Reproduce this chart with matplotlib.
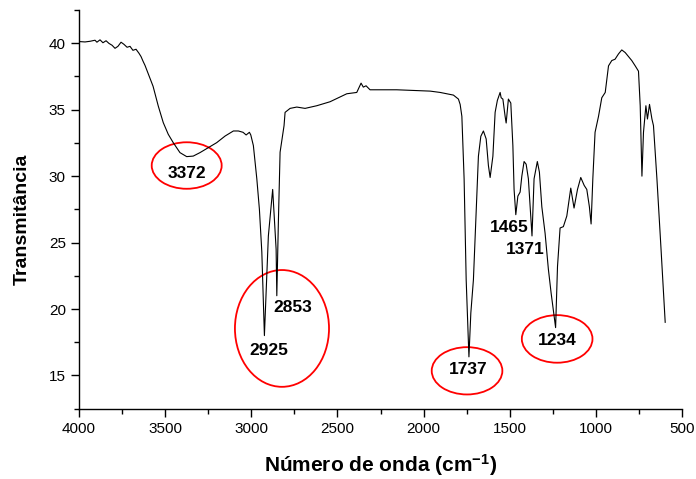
import numpy as np
import matplotlib
matplotlib.use("Agg")
import matplotlib.pyplot as plt
from matplotlib.patches import Ellipse

plt.rcParams['font.family'] = ['Liberation Sans', 'DejaVu Sans']
plt.rcParams['mathtext.fontset'] = 'custom'
plt.rcParams['mathtext.rm'] = 'Liberation Sans'
plt.rcParams['mathtext.bf'] = 'Liberation Sans:bold'
plt.rcParams['mathtext.default'] = 'bf'

# espectro FTIR (número de onda, transmitância)
wavenumber = [4000, 3965, 3936, 3907, 3896, 3878, 3861, 3843, 3826, 3808,
              3791, 3774, 3756, 3739, 3721, 3704, 3687, 3669, 3652, 3640,
              3628, 3617, 3570, 3540, 3511, 3482, 3453, 3414, 3375, 3337,
              3298, 3249, 3201, 3152, 3104, 3075, 3048, 3030, 3011, 3003,
              2988, 2968, 2953, 2939, 2924, 2901, 2876, 2856, 2852, 2843,
              2833, 2810, 2804, 2775, 2736, 2688, 2620, 2543, 2446, 2388,
              2363, 2350, 2334, 2311, 2156, 1962, 1904, 1866, 1827, 1807,
              1798, 1788, 1778, 1765, 1753, 1737, 1726, 1711, 1695, 1682,
              1668, 1653, 1637, 1624, 1614, 1598, 1585, 1572, 1556, 1550,
              1540, 1527, 1521, 1508, 1494, 1482, 1475, 1465, 1453, 1440,
              1430, 1417, 1405, 1392, 1382, 1371, 1359, 1340, 1328, 1314,
              1295, 1276, 1260, 1234, 1223, 1208, 1189, 1169, 1146, 1127,
              1107, 1088, 1068, 1053, 1038, 1028, 1018, 1005, 985, 966,
              946, 927, 908, 889, 869, 850, 830, 811, 792, 772,
              753, 743, 733, 724, 710, 701, 689, 675, 666, 646,
              623, 598]
transmittance = [40.13, 40.10, 40.15, 40.23, 40.08, 40.26, 40.04, 40.19, 39.99, 39.85,
                 39.62, 39.77, 40.08, 39.92, 39.70, 39.77, 39.47, 39.55, 39.25, 39.00,
                 38.64, 38.34, 36.76, 35.28, 34.03, 33.15, 32.52, 31.77, 31.47, 31.51,
                 31.77, 32.15, 32.52, 33.02, 33.40, 33.40, 33.30, 33.10, 33.30, 33.10,
                 32.30, 29.80, 27.50, 24.30, 18.00, 25.50, 29.00, 24.50, 21.00, 26.50,
                 31.80, 33.80, 34.80, 35.10, 35.20, 35.10, 35.30, 35.60, 36.20, 36.30,
                 37.00, 36.70, 36.80, 36.50, 36.50, 36.40, 36.30, 36.20, 36.10, 35.90,
                 35.80, 35.40, 34.50, 29.80, 22.20, 16.40, 19.70, 22.20, 27.30, 31.50,
                 33.00, 33.40, 32.80, 30.80, 29.90, 31.50, 34.80, 35.70, 36.30, 35.90,
                 35.80, 34.50, 34.00, 35.80, 35.50, 32.30, 29.00, 27.10, 28.50, 28.80,
                 30.00, 31.10, 30.90, 29.80, 27.70, 25.50, 29.80, 31.10, 30.30, 27.70,
                 25.70, 23.00, 21.20, 18.60, 23.20, 26.10, 26.20, 27.00, 29.10, 27.60,
                 29.00, 29.90, 29.30, 29.00, 27.70, 26.40, 29.80, 33.30, 34.50, 35.90,
                 36.30, 38.30, 38.70, 38.80, 39.20, 39.50, 39.30, 39.00, 38.70, 38.30,
                 37.90, 35.30, 30.00, 33.30, 35.30, 34.30, 35.40, 34.30, 33.80, 29.80,
                 24.70, 19.00]

# picos marcados: texto, posição do texto
peak_labels = ['3372', '2853', '2925', '1465', '1371', '1737', '1234']
label_x = [3373, 2762, 2901, 1502, 1411, 1744, 1223]
label_y = [30.2, 20.1, 16.9, 26.1, 24.5, 15.45, 17.66]

# elipses vermelhas: centro x, centro y, largura, altura
ell_x = [3375, 2822, 1748, 1225]
ell_y = [30.8, 18.54, 15.35, 17.75]
ell_w = [406, 546, 410, 410]
ell_h = [3.5, 8.79, 3.56, 3.58]

fig = plt.figure(figsize=(6.96, 4.79), dpi=100)
ax = fig.add_axes([0.1135, 0.1468, 0.8665, 0.8322])

ax.plot(wavenumber, transmittance, color='black', linewidth=0.8)

for t, x, y in zip(peak_labels, label_x, label_y):
    ax.text(x, y, t, ha='center', va='center', fontsize=12.5, fontweight='bold')

for x, y, w, h in zip(ell_x, ell_y, ell_w, ell_h):
    ax.add_patch(Ellipse((x, y), w, h, fill=False, edgecolor='red', linewidth=1.3))

ax.set_xlim(4000, 500)
ax.set_ylim(12.5, 42.5)
ax.set_xticks([4000, 3500, 3000, 2500, 2000, 1500, 1000, 500])
ax.set_xticks(np.arange(500, 4001, 250), minor=True)
ax.set_yticks([15, 20, 25, 30, 35, 40])
ax.set_yticks(np.arange(12.5, 42.6, 2.5), minor=True)
ax.tick_params(which='major', direction='out', length=5.5, width=1, labelsize=11, pad=4)
ax.tick_params(which='minor', direction='out', length=3.5, width=1)

ax.spines['top'].set_visible(False)
ax.spines['right'].set_visible(False)
ax.spines['left'].set_linewidth(1)
ax.spines['bottom'].set_linewidth(1)

ax.set_xlabel('Número de onda (cm$^{-1}$)', fontsize=15, fontweight='bold', labelpad=12)
ax.set_ylabel('Transmitância', fontsize=14, fontweight='bold', labelpad=13)
ax.yaxis.label.set_y(0.476)

fig.savefig('out.png', dpi=100)
